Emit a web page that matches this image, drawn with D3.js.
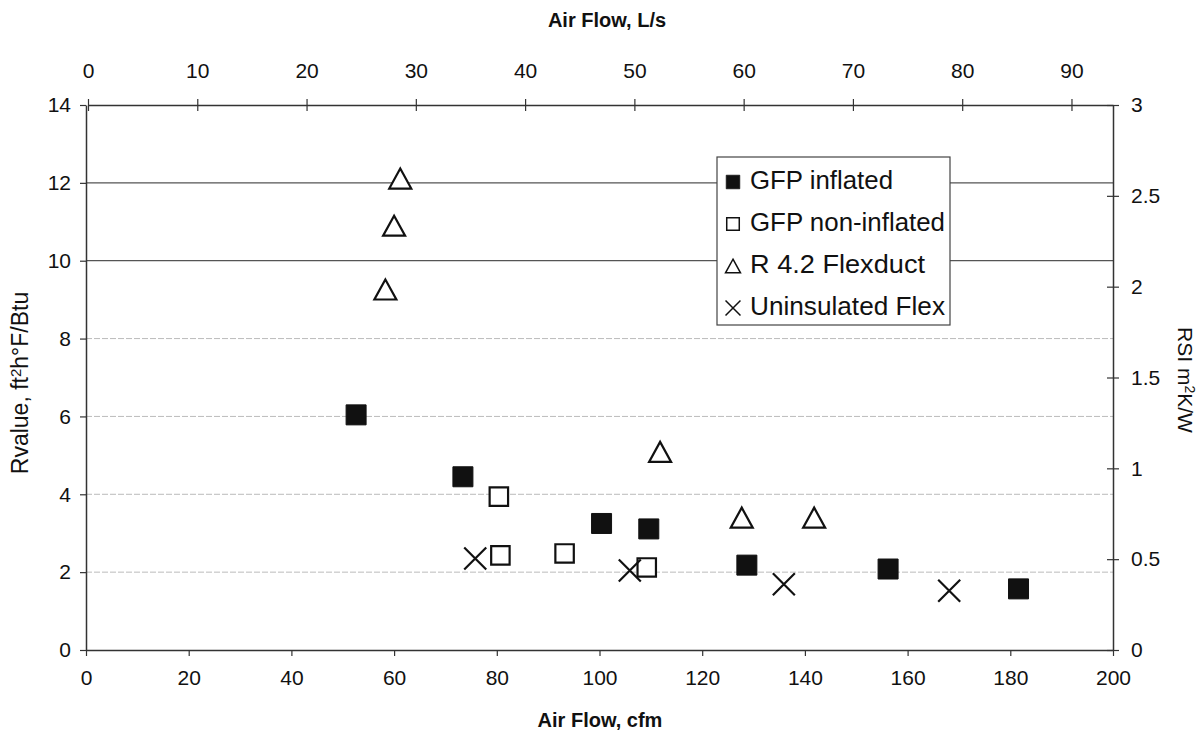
<!DOCTYPE html>
<html>
<head>
<meta charset="utf-8">
<script src="https://cdn.jsdelivr.net/npm/d3@7"></script>
<style>
  body { margin: 0; background: #fff; }
  text { font-family: "Liberation Sans", Arial, sans-serif; fill: #111; }
</style>
</head>
<body>
<div id="chart"></div>
<script>
//////////////////////////////////////////////////////////////////////////////
// Data (x = cfm, y = R-value)

var gfpInflated    = [[52.6, 6.04], [73.4, 4.45], [100.4, 3.25], [109.6, 3.11],
                      [128.7, 2.18], [156.2, 2.08], [181.6, 1.57]];
var gfpNonInflated = [[80.4, 3.94], [80.7, 2.43], [93.2, 2.48], [109.2, 2.12]];
var flexR42        = [[58.3, 9.26], [60.0, 10.9], [61.2, 12.11],
                      [111.8, 5.09], [127.7, 3.40], [141.8, 3.40]];
var uninsulated    = [[75.8, 2.35], [105.9, 2.04], [135.9, 1.69], [168.1, 1.52]];

var seriesNames = ["GFP inflated", "GFP non-inflated", "R 4.2 Flexduct", "Uninsulated Flex"];
var seriesKinds = ["filled", "open", "triangle", "cross"];

var cfmTicks = d3.range(0, 201, 20);
var lsTicks  = d3.range(0, 91, 10);
var rTicks   = d3.range(0, 15, 2);
var rsiTicks = d3.range(0, 3.01, 0.5);

var width = 1201, height = 736;

var xScale   = d3.scaleLinear().domain([0, 200]).range([86, 1113]);
var xTop     = d3.scaleLinear().domain([0, 93.8]).range([88, 1113]);
var yScale   = d3.scaleLinear().domain([0, 14]).range([650, 105]);
var yRight   = d3.scaleLinear().domain([0, 3]).range([650, 105]);

var svg = d3.select("#chart")
    .append("svg")
    .attr("width", width)
    .attr("height", height);

//////////////////////////////////////////////////////////////////////////////
// gridlines (the scan keeps 10 and 12 dark, the lower ones come out faint)

svg.append("g")
    .selectAll("line")
    .data(rTicks.filter(function(d) { return d > 0 && d < 14; }))
    .enter()
    .append("line")
    .attr("x1", xScale(0))
    .attr("x2", xScale(200))
    .attr("y1", function(d) { return yScale(d); })
    .attr("y2", function(d) { return yScale(d); })
    .attr("stroke", function(d) { return d >= 10 ? "#555" : "#bbb"; })
    .attr("stroke-width", function(d) { return d >= 10 ? 1.3 : 1; })
    .attr("stroke-dasharray", function(d) { return d >= 10 ? null : "6,2"; });

//////////////////////////////////////////////////////////////////////////////
// axes

function styleAxis(g) {
    g.attr("font-size", null).attr("font-family", null);
    g.select(".domain").attr("stroke", "#333").attr("stroke-width", 1.5);
    g.selectAll(".tick line").attr("stroke", "#333").attr("stroke-width", 1.2);
    g.selectAll(".tick text")
        .style("font-family", "'Liberation Sans', Arial, sans-serif")
        .style("font-size", "21px")
        .attr("fill", "#111");
}

svg.append("g")
    .attr("transform", "translate(0,650)")
    .call(d3.axisBottom(xScale).tickValues(cfmTicks).tickSize(6).tickSizeOuter(0).tickPadding(14))
    .call(styleAxis);

svg.append("g")
    .attr("transform", "translate(0,105)")
    .call(d3.axisTop(xTop).tickValues(lsTicks).tickSizeInner(-6).tickSizeOuter(0).tickPadding(27))
    .call(styleAxis)
    .selectAll(".tick line").attr("y1", 6).attr("y2", -6);

svg.append("g")
    .attr("transform", "translate(86,0)")
    .call(d3.axisLeft(yScale).tickValues(rTicks).tickSize(6).tickSizeOuter(0).tickPadding(9))
    .call(styleAxis);

svg.append("g")
    .attr("transform", "translate(1113,0)")
    .call(d3.axisRight(yRight).tickValues(rsiTicks).tickSize(6).tickSizeOuter(0).tickPadding(12)
        .tickFormat(d3.format("~g")))
    .call(styleAxis)
    .selectAll(".tick line").attr("x1", -6).attr("x2", 6);

// titles
svg.append("text")
    .attr("x", 607).attr("y", 27)
    .attr("text-anchor", "middle")
    .style("font-size", "20px").style("font-weight", "bold")
    .text("Air Flow, L/s");

svg.append("text")
    .attr("x", 600).attr("y", 727)
    .attr("text-anchor", "middle")
    .style("font-size", "20px").style("font-weight", "bold")
    .text("Air Flow, cfm");

var leftTitle = svg.append("text")
    .attr("transform", "translate(28,383) rotate(-90)")
    .attr("text-anchor", "middle")
    .style("font-size", "23px");
leftTitle.append("tspan").text("Rvalue, ft");
leftTitle.append("tspan").attr("dy", -7).style("font-size", "15px").text("2");
leftTitle.append("tspan").attr("dy", 7).text("h\u00B0F/Btu");

var rightTitle = svg.append("text")
    .attr("transform", "translate(1178,380) rotate(90)")
    .attr("text-anchor", "middle")
    .style("font-size", "21px");
rightTitle.append("tspan").text("RSI m");
rightTitle.append("tspan").attr("dy", -7).style("font-size", "14px").text("2");
rightTitle.append("tspan").attr("dy", 7).text("K/W");

//////////////////////////////////////////////////////////////////////////////
// markers

var symSize = { filled: 400, open: 340 };

function markerPath(kind) {
    if (kind === "filled" || kind === "open")
        return d3.symbol().type(d3.symbolSquare).size(symSize[kind])();
    if (kind === "triangle") {
        // wide, flat triangle like the Excel marker, centred in its box
        return "M0,-10L11,10L-11,10Z";
    }
    return "M-11,-11L11,11M11,-11L-11,11";
}

function drawMarkers(g, kind) {
    g.attr("d", markerPath(kind))
        .attr("fill", kind === "filled" ? "#111" : (kind === "cross" ? "none" : "#fff"))
        .attr("stroke", "#111")
        .attr("stroke-width", kind === "filled" ? 1 : 2.2)
        .attr("stroke-linejoin", "miter");
}

var allSeries = [gfpInflated, gfpNonInflated, flexR42, uninsulated];

allSeries.forEach(function(data, i) {
    svg.append("g")
        .selectAll("path")
        .data(data)
        .enter()
        .append("path")
        .attr("transform", function(d) {
            return "translate(" + xScale(d[0]) + "," + yScale(d[1]) + ")";
        })
        .call(drawMarkers, seriesKinds[i]);
});

//////////////////////////////////////////////////////////////////////////////
// legend

var legend = svg.append("g").attr("transform", "translate(717,157)");

legend.append("rect")
    .attr("width", 233).attr("height", 168)
    .attr("fill", "#fff").attr("stroke", "#444").attr("stroke-width", 1.2);

var rows = legend.selectAll("g.row")
    .data(seriesNames)
    .enter()
    .append("g")
    .attr("class", "row")
    .attr("transform", function(d, i) { return "translate(0," + (22 + i * 42) + ")"; });

rows.append("path")
    .attr("transform", "translate(16,3) scale(0.68)")
    .each(function(d, i) { d3.select(this).call(drawMarkers, seriesKinds[i]); });

rows.append("text")
    .attr("x", 33).attr("y", 10)
    .style("font-size", "25px")
    .attr("textLength", function(d, i) { return [143, 195, 175, 195][i]; })
    .attr("lengthAdjust", "spacingAndGlyphs")
    .text(function(d) { return d; });
</script>
</body>
</html>
